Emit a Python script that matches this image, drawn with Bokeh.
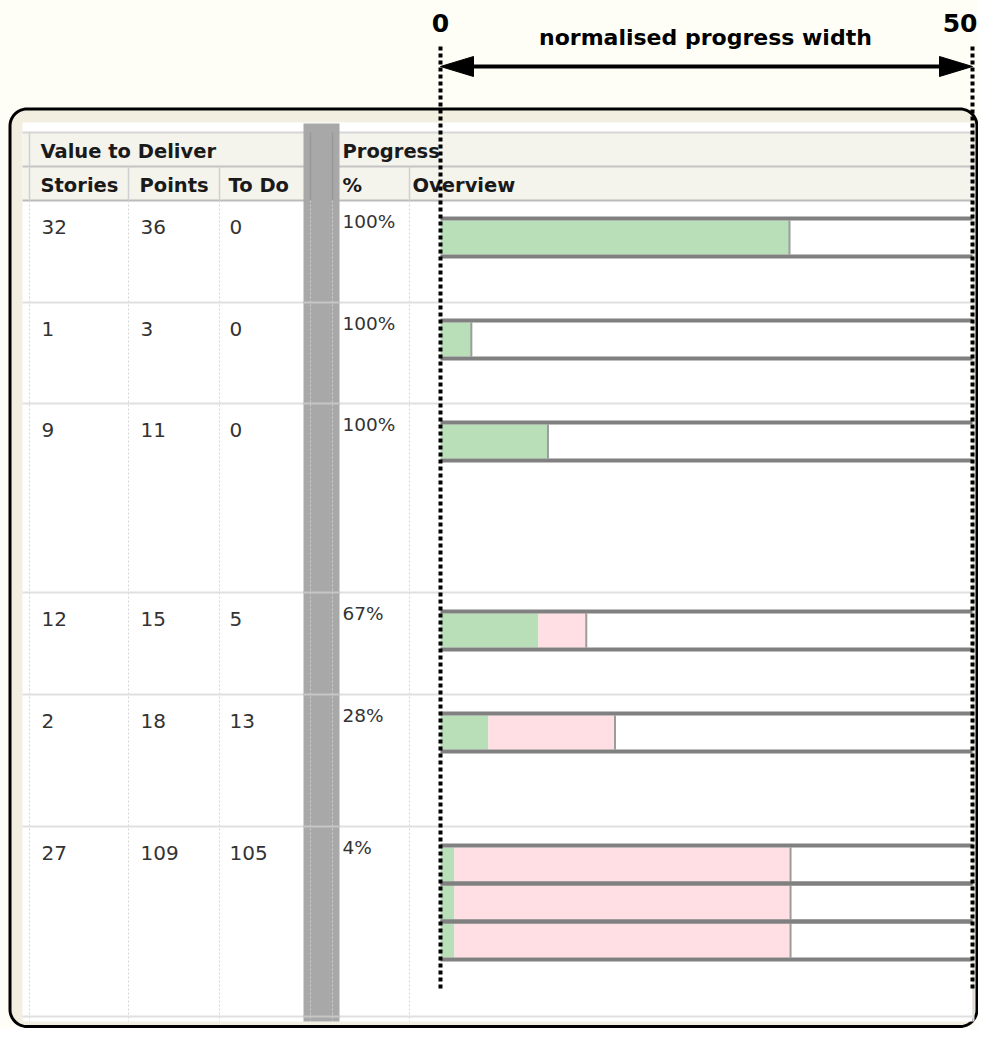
import numpy as np
from bokeh.plotting import figure
from bokeh.models import ColumnDataSource, Range1d
from bokeh.core.properties import value
from bokeh.embed import file_html
from bokeh.resources import INLINE

# ---------------- data ----------------
header_group = ["Value to Deliver", "Progress"]
header_cols = ["Stories", "Points", "To Do", "%", "Overview"]
stories = [32, 1, 9, 12, 2, 27]
points = [36, 3, 11, 15, 18, 109]
todo = [0, 0, 0, 5, 13, 105]
pct = ["100%", "100%", "100%", "67%", "28%", "4%"]
# progress bars in normalised width units (0..50); one entry per bar line
bar_row = [0, 1, 2, 3, 4, 5, 5, 5]
bar_done = [32.8, 2.9, 10.1, 9.2, 4.5, 1.3, 1.3, 1.3]
bar_total = [32.8, 2.9, 10.1, 13.7, 16.4, 32.9, 32.9, 32.9]
axis_values = [0, 50]
axis_labels = ["0", "50"]
axis_title = "normalised progress width"

# ---------------- layout / style ----------------
W, H = 978, 1028
P0_X, P50_X = 440, 972
PX_PER_UNIT = (P50_X - P0_X) / 50.0

BG = "#FEFEF6"
PANEL = "#F2EEE0"
HEAD_BG = "#F4F3EC"
GREEN = "#B9DFB9"
PINK = "#FFDFE4"
BAR_LINE = "#808080"
GRAYCOL = "#A8A8A8"
TXT = "#333333"
HTXT = "#1A1A1A"

ROW_TOP = [200, 302, 403, 592, 694, 826]
BODY_END = 1016
TABLE_L, TABLE_R, TABLE_T, TABLE_B = 22, 972, 122, 1021
COL_LINES = [29, 128, 219, 409]
GRAY_L, GRAY_R = 303, 339
BAR_Y = [216, 318, 420, 609, 711, 843, 881, 919]
BAR_PITCH = 38


def rounded_rect(left, right, top, bottom, rad, n=16):
    xs, ys = [], []
    for cx, cy, a0 in [(right - rad, top + rad, -90), (right - rad, bottom - rad, 0),
                       (left + rad, bottom - rad, 90), (left + rad, top + rad, 180)]:
        a = np.radians(np.linspace(a0, a0 + 90, n))
        xs.extend(cx + rad * np.cos(a))
        ys.extend(cy + rad * np.sin(a))
    return xs, ys


p = figure(width=W, height=H, x_range=Range1d(0, W), y_range=Range1d(H, 0),
           output_backend="svg", toolbar_location=None, min_border=0,
           x_axis_location=None, y_axis_location=None,
           background_fill_color=BG, border_fill_color=BG, outline_line_color=None)
p.grid.visible = False
p.extra_x_ranges = {"prog": Range1d((0 - P0_X) / PX_PER_UNIT, (W - P0_X) / PX_PER_UNIT)}

# panel with rounded corners
px, py = rounded_rect(9.5, 976.5, 108.5, 1026, 17)
p.patch(x=px, y=py, fill_color=PANEL, line_color="black", line_width=3)

# table background
p.quad(left=TABLE_L, right=TABLE_R, top=TABLE_T, bottom=TABLE_B, fill_color="white", line_color=None)
p.quad(left=TABLE_L, right=TABLE_R, top=132, bottom=200, fill_color=HEAD_BG, line_color=None)
p.segment(x0=TABLE_R + 1, x1=TABLE_R + 1, y0=TABLE_T, y1=TABLE_B, line_color="#DADADA", line_width=2)

# header lines
p.segment(x0=[TABLE_L] * 3, x1=[TABLE_R] * 3, y0=[132, 166, 200], y1=[132, 166, 200],
          line_color=["#D6D6D6", "#C4C4C4", "#BBBBBB"], line_width=2)
p.segment(x0=[29, 128, 219, 409], x1=[29, 128, 219, 409], y0=[132, 166, 166, 166],
          y1=[200, 200, 200, 200], line_color="#D0D0D0", line_width=1.5)
# body column lines (dotted)
p.segment(x0=COL_LINES, x1=COL_LINES, y0=[200] * 4, y1=[TABLE_B] * 4,
          line_color="#D4D4D4", line_width=1, line_dash="2 2")

# row separators
seps = ROW_TOP[1:] + [BODY_END]
p.segment(x0=[TABLE_L] * len(seps), x1=[TABLE_R] * len(seps), y0=seps, y1=seps,
          line_color="#E0E0E0", line_width=2)

# gray hidden column
p.quad(left=GRAY_L, right=GRAY_R, top=123, bottom=TABLE_B, fill_color=GRAYCOL, line_color=None)
p.segment(x0=[310, 332], x1=[310, 332], y0=[132, 132], y1=[200, 200], line_color="#989898", line_width=1.5)
p.segment(x0=[310, 332], x1=[310, 332], y0=[200, 200], y1=[TABLE_B, TABLE_B],
          line_color="#CFCFCF", line_width=1, line_dash="2 2")
p.segment(x0=[GRAY_L] * len(seps), x1=[GRAY_R] * len(seps), y0=seps, y1=seps,
          line_color="#C6C6C6", line_width=2)

# header texts
hfont = dict(text_font=value("DejaVu Sans"), text_font_style="bold", text_font_size="19.5px",
             text_color=HTXT, text_baseline="middle", text_align="left")
p.text(x=[40, 342], y=[150.5, 150.5], text=header_group, **hfont)
p.text(x=[40, 139, 228, 342, 412], y=[185] * 5, text=header_cols, **hfont)

# body texts
body = dict(x=[], y=[], t=[])
for i, top in enumerate(ROW_TOP):
    for cx, v in zip([41, 140, 229], [stories[i], points[i], todo[i]]):
        body["x"].append(cx)
        body["y"].append(top + 26)
        body["t"].append(str(v))
p.text(x="x", y="y", text="t", source=ColumnDataSource(body), text_font=value("DejaVu Sans"),
       text_font_size="20px", text_color=TXT, text_baseline="middle", text_align="left")
p.text(x=[342] * len(pct), y=[t + 21 for t in ROW_TOP], text=pct, text_font=value("DejaVu Sans"),
       text_font_size="18.5px", text_color=TXT, text_baseline="middle", text_align="left")

# progress bars
bars = ColumnDataSource(dict(
    done=bar_done, total=bar_total,
    top=[y + 4 for y in BAR_Y], bottom=[y + BAR_PITCH for y in BAR_Y],
    lt=[y + 2 for y in BAR_Y], lb=[y + BAR_PITCH + 2 for y in BAR_Y],
    zero=[0] * len(bar_done), full=[50] * len(bar_done),
))
p.quad(left="zero", right="done", top="top", bottom="bottom", source=bars,
       fill_color=GREEN, line_color=None, x_range_name="prog")
p.quad(left="done", right="total", top="top", bottom="bottom", source=bars,
       fill_color=PINK, line_color=None, x_range_name="prog")
p.segment(x0="total", x1="total", y0="top", y1="bottom", source=bars,
          line_color="#9C9C9C", line_width=2, x_range_name="prog")
p.segment(x0="zero", x1="full", y0="lt", y1="lt", source=bars,
          line_color=BAR_LINE, line_width=4, x_range_name="prog")
p.segment(x0="zero", x1="full", y0="lb", y1="lb", source=bars,
          line_color=BAR_LINE, line_width=4, x_range_name="prog")

# annotation: dotted guides, arrow, labels
p.segment(x0=axis_values, x1=axis_values, y0=[46, 46], y1=[989, 989], line_color="black",
          line_width=4, line_dash="4 3", x_range_name="prog")
head = 33 / PX_PER_UNIT
p.segment(x0=[axis_values[0] + head * 0.8], x1=[axis_values[1] - head * 0.8], y0=[66], y1=[66],
          line_color="black", line_width=4, x_range_name="prog")
p.patches(xs=[[axis_values[0], axis_values[0] + head, axis_values[0] + head],
              [axis_values[1], axis_values[1] - head, axis_values[1] - head]],
          ys=[[66, 56, 76], [66, 56, 76]], fill_color="black", line_color="black", x_range_name="prog")
afont = dict(text_font=value("DejaVu Sans"), text_font_style="bold", text_color="black",
             text_baseline="middle")
p.text(x=[axis_values[0]], y=[22], text=[axis_labels[0]], text_align="center",
       text_font_size="25px", x_range_name="prog", **afont)
p.text(x=[axis_values[1] + 5 / PX_PER_UNIT], y=[22], text=[axis_labels[1]], text_align="right",
       text_font_size="25px", x_range_name="prog", **afont)
p.text(x=[(axis_values[0] + axis_values[1]) / 2 - 0.1], y=[37], text=[axis_title], text_align="center",
       text_font_size="22px", x_range_name="prog", **afont)

open("out.html", "w").write(file_html(p, INLINE))
